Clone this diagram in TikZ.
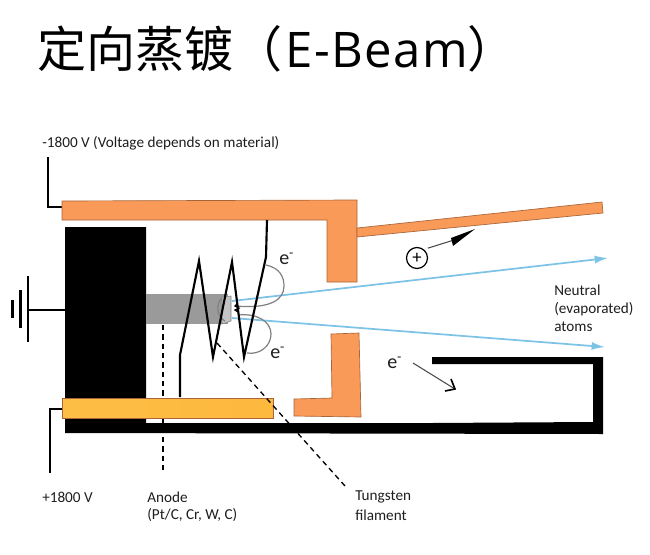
\documentclass[tikz,border=0pt]{standalone}
\usepackage{fontspec}
\setmainfont{Carlito}
\newfontfamily\cjk{Noto Sans CJK SC}
\newfontfamily\titlelatin[LetterSpace=3]{Open Sans}
\usetikzlibrary{arrows.meta}
\definecolor{orng}{HTML}{F99A58}
\definecolor{orngedge}{HTML}{A8653A}
\definecolor{gold}{HTML}{FDBE45}
\definecolor{beam}{HTML}{7CC3E6}
\definecolor{rodgray}{HTML}{9A9A9A}
\definecolor{tipgray}{HTML}{C4C4C6}
\definecolor{txt}{HTML}{1E1E1E}
\tikzset{
  orangepart/.style={fill=orng,draw=orngedge,line width=0.5pt},
  wire/.style={draw=black,line width=1.6pt},
  beamline/.style={draw=beam,line width=1.3pt,-{Latex[length=10pt,width=6pt]}},
  orbit/.style={draw=gray,line width=0.9pt},
  guide/.style={draw=black,line width=1pt,dash pattern=on 4pt off 3pt},
  lbl/.style={font=\fontsize{11.4}{13}\selectfont,text=txt,anchor=west,inner sep=0pt},
  charge/.style={lbl,font=\fontsize{15}{17}\selectfont},
}
\begin{document}
\begin{tikzpicture}[x=0.75pt,y=-0.75pt]
\useasboundingbox (0,0) rectangle (650,554);
% title
\node[anchor=west,inner sep=0pt,text=black,font=\fontsize{36.8}{40}\selectfont\cjk] (title) at (37,49) {定向蒸镀（\hspace{2pt}{\titlelatin E-Beam}）};
% wires and ground
\coordinate (gA) at (29,310);
\draw[wire] (48,157) -- (48,207) -- (62,207);
\draw[wire] (50,473) -- (50,409) -- (62,409);
\draw[line width=1.3pt] (gA) -- (65,310);
\draw[wire] (28,276) -- (28,342);
\draw[wire] (20.5,290) -- (20.5,328);
\draw[wire] (12.5,300) -- (12.5,318);
% black crucible body and hearth
\fill[black] (65,227) -- (146,227) -- (146,423) -- (432,423) -- (593,422) -- (593,364) -- (432,364) -- (432,357) -- (603,357) -- (603,434) -- (65,433) -- cycle;
% anode dashed guide
\draw[guide] (163,325) -- (163,471);
% rod
\fill[rodgray] (146,294) -- (228,294) -- (228,324) -- (146,324) -- cycle;
\fill[tipgray,draw=gray,line width=0.4pt] (222,297) -- (231,296) -- (231,321) -- (222,324) -- cycle;
% orange parts
\draw[orangepart] (62,201) -- (357,200) -- (357,282) -- (327,282) -- (327,220) -- (62,220) -- cycle;
\draw[orangepart] (357,228) -- (602,202) -- (603,213) -- (357,237) -- cycle;
\draw[orangepart] (331,334) -- (359,333) -- (361,417) -- (294,416) -- (294,399) -- (332,398) -- cycle;
% gold bar
\draw[draw=orngedge,line width=0.5pt,left color=gold,right color=gold!90!orange] (62,398) rectangle (273,418);
% blue beams
\draw[beamline] (232,301) -- (608,258);
\draw[beamline] (232,318) -- (605,347);
% electron orbits
\draw[orbit] (266,265) .. controls (280,268) and (284,277) .. (284,286) .. controls (284,300) and (270,309) .. (236,306);
\draw[orbit] (238,315) .. controls (258,313) and (271,322) .. (271,334) .. controls (271,346) and (260,355) .. (247,353);
\draw[orbit] (222,298) .. controls (216,303) and (216,316) .. (225,321);
% filament
\draw[line width=1.6pt,line join=miter] (180,397) -- (180,355) -- (199,261) -- (213,357) -- (232,262) -- (244,357) -- (266,257) -- (267,220);
\draw[line width=1pt] (237,304) -- (235,306) -- (239,308) -- (235,310) -- (238,312);
% tungsten dashed guide
\draw[guide] (217,343) -- (345,486);
% charge labels
\node[charge] (e1) at (279,259) {e\textsuperscript{-}};
\node[charge] (e2) at (270,353) {e\textsuperscript{-}};
\node[charge] (e3) at (387,363) {e\textsuperscript{-}};
\coordinate (e3a) at (413,363);
\coordinate (e3b) at (455,389);
\draw[draw=black!70,line width=0.8pt] (e3a) -- (e3b);
\draw[line width=1.2pt] (445,391) -- (455,389) -- (451,379);
\node[circle,draw=black,line width=0.9pt,minimum size=21pt*0.75,inner sep=0pt,font=\fontsize{14}{14}\selectfont] (plus) at (417,258) {+};
\coordinate (pa) at (475,229);
\draw[draw=black!70,line width=0.8pt] (plus.45) ++(3,-2) -- (454,240);
\fill[black] (pa) -- (453,246) -- (451,238) -- cycle;
% labels
\node[lbl] (top) at (42,143) {-1800 V (Voltage depends on material)};
\node[lbl] (pos) at (42,497) {+1800 V};
\node[lbl] (anode) at (147,497) {Anode};
\node[lbl] (anode2) at (147,515) {(Pt/C, Cr, W, C)};
\node[lbl] (tung) at (355,497) {Tungsten};
\node[lbl] (fil) at (355,515) {filament};
\node[lbl] (n1) at (554,290) {Neutral};
\node[lbl] (n2) at (554,309) {(evaporated)};
\node[lbl] (n3) at (554,327) {atoms};
\end{tikzpicture}
\end{document}
